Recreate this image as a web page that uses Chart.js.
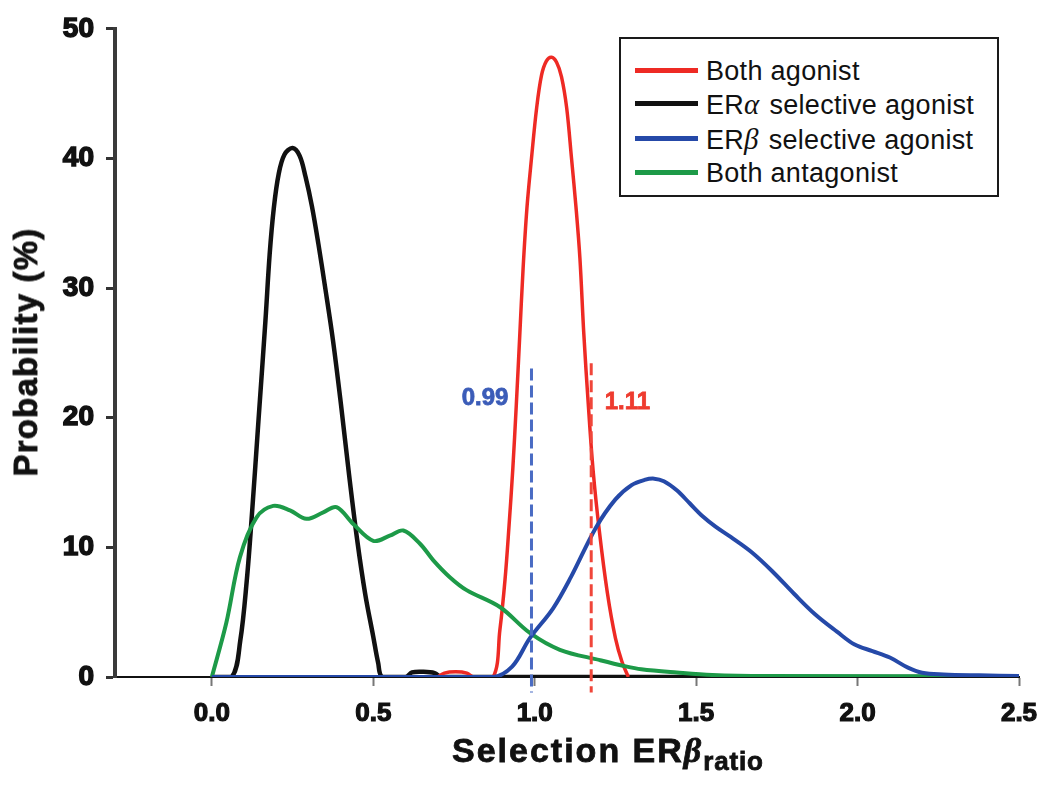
<!DOCTYPE html>
<html>
<head>
<meta charset="utf-8">
<script src="https://cdn.jsdelivr.net/npm/chart.js@4.4.1/dist/chart.umd.min.js"></script>
<style>
  html, body { margin: 0; padding: 0; background: #fff; }
  #wrap { position: relative; width: 1050px; height: 794px; font-family: "Liberation Sans", Arial, sans-serif; color: #111; }
  #chart { position: absolute; left: 0; top: 0; }
  .greek { font-family: "Liberation Serif", "DejaVu Serif", serif; font-style: italic; }
  #legend { position: absolute; left: 619px; top: 37px; width: 376px; height: 156px; border: 2px solid #1a1a1a; background: #fff; }
  .item { position: absolute; left: 14px; height: 34px; }
  .swatch { position: absolute; left: 0; top: 14px; width: 63px; height: 5px; }
  .label { position: absolute; left: 71px; top: 0; font-size: 27px; line-height: 34px; letter-spacing: 0.3px; white-space: nowrap; }
  .label .greek { font-size: 29px; padding-right: 2px; }
  #xtitle { position: absolute; left: 452px; top: 731px; font-size: 34px; font-weight: bold; letter-spacing: 2px; white-space: nowrap; -webkit-text-stroke: 0.8px #111; }
  #xtitle sub { font-size: 26px; vertical-align: -8px; letter-spacing: 0.8px; }
  #ytitle { position: absolute; left: 26px; top: 352px; transform: translate(-50%, -50%) rotate(-90deg); font-size: 33px; font-weight: bold; letter-spacing: 1.2px; white-space: nowrap; -webkit-text-stroke: 0.8px #111; }
</style>
</head>
<body>
<div id="wrap">
  <canvas id="chart" width="1050" height="794"></canvas>
  <div id="legend"></div>
  <div id="ytitle">Probability (%)</div>
  <div id="xtitle">Selection ER<span class="greek">β</span><sub>ratio</sub></div>
</div>
<script>
// Data: [selection ratio, probability %]
const bothAgonist = [
  [0.70, 0], [0.72, 0.3], [0.755, 0.4], [0.79, 0.3], [0.81, 0], [0.871, 0],
  [0.892, 3.6], [0.908, 7.5], [0.92, 11.5], [0.932, 16], [0.943, 21], [0.953, 26],
  [0.964, 31.5], [0.976, 36.2], [0.99, 40.0], [1.006, 43.9], [1.021, 46.4],
  [1.036, 47.5], [1.052, 47.8], [1.068, 47.4], [1.083, 46.3], [1.099, 43.9],
  [1.114, 40.0], [1.128, 36.2], [1.14, 32.3], [1.152, 26.5], [1.166, 21],
  [1.181, 15.9], [1.20, 11.3], [1.225, 6.5], [1.25, 3.0], [1.27, 1.2], [1.29, 0]
];
const erAlphaAgonist = [
  [0, 0], [0.062, 0], [0.088, 2.8], [0.108, 7.4], [0.124, 12.5], [0.145, 20],
  [0.166, 27.5], [0.179, 32.6], [0.192, 36.2], [0.207, 38.8], [0.225, 40.3],
  [0.25, 40.8], [0.272, 40.2], [0.29, 38.6], [0.31, 36.3], [0.33, 33.4],
  [0.35, 30.2], [0.375, 26.0], [0.40, 21.0], [0.425, 15.6], [0.45, 10.6],
  [0.475, 6.4], [0.50, 3.1], [0.515, 1.1], [0.528, 0], [0.6, 0], [0.62, 0.35],
  [0.655, 0.4], [0.69, 0.3], [0.71, 0], [2.5, 0]
];
const erBetaAgonist = [
  [0, 0], [0.87, 0], [0.93, 0.8], [0.985, 3.0], [1.057, 5.3], [1.112, 7.7],
  [1.189, 11.5], [1.25, 13.7], [1.30, 14.8], [1.34, 15.2], [1.37, 15.3],
  [1.40, 15.1], [1.44, 14.4], [1.48, 13.4], [1.52, 12.4], [1.56, 11.6],
  [1.607, 10.8], [1.673, 9.6], [1.738, 8.1], [1.804, 6.4], [1.87, 4.8],
  [1.936, 3.5], [1.991, 2.5], [2.046, 2.0], [2.10, 1.5], [2.156, 0.72],
  [2.20, 0.33], [2.266, 0.2], [2.376, 0.13], [2.5, 0.08]
];
const bothAntagonist = [
  [0, 0], [0.045, 4.2], [0.087, 9.25], [0.138, 12.3], [0.19, 13.2], [0.242, 12.85],
  [0.293, 12.2], [0.345, 12.7], [0.386, 13.1], [0.438, 11.8], [0.50, 10.5],
  [0.551, 10.9], [0.593, 11.3], [0.644, 10.3], [0.686, 9.0], [0.737, 7.7],
  [0.789, 6.7], [0.892, 5.4], [0.985, 3.4], [1.078, 2.1], [1.202, 1.3],
  [1.277, 0.85], [1.33, 0.6], [1.44, 0.35], [1.55, 0.16], [1.72, 0.08], [2.5, 0.05]
];

// Cut-off lines: [x, top y, bottom y]
const blueCutoff = [0.99, 23.8, -1.2];
const redCutoff = [1.175, 24.2, -1.2];
const cutoffLabels = ["0.99", "1.11"];

const xTickValues = [0.0, 0.5, 1.0, 1.5, 2.0, 2.5];
const yTickValues = [0, 10, 20, 30, 40, 50];

const seriesLabels = ["Both agonist", "ERα selective agonist", "ERβ selective agonist", "Both antagonist"];
const seriesColors = ["#ee2a24", "#111111", "#2549a8", "#1d9a48"];
const seriesData = [bothAgonist, erAlphaAgonist, erBetaAgonist, bothAntagonist];
const seriesWidths = [3.5, 4.5, 4, 4];
const seriesOrder = [3, 5, 1, 2]; // higher drawn first

const FONT = "'Liberation Sans', Arial, sans-serif";

function toPoints(arr) {
  return arr.map(([x, y]) => ({ x, y }));
}

const datasets = seriesData.map((d, i) => ({
  label: seriesLabels[i],
  data: toPoints(d),
  borderColor: seriesColors[i],
  borderWidth: seriesWidths[i],
  pointRadius: 0,
  fill: false,
  tension: 0.35,
  order: seriesOrder[i],
}));

// dashed cut-off lines
[[blueCutoff, "#4a6cc4"], [redCutoff, "#f0463a"]].forEach(([c, col]) => {
  datasets.push({
    label: "cutoff",
    data: [{ x: c[0], y: c[1] }, { x: c[0], y: c[2] }],
    borderColor: col,
    borderWidth: 3,
    borderDash: [12, 5],
    pointRadius: 0,
    clip: false,
    order: 0,
  });
});

// text next to the cut-off lines
const cutoffText = {
  id: "cutoffText",
  afterDatasetsDraw(chart) {
    const { ctx, scales } = chart;
    const items = [
      { text: cutoffLabels[0], x: 0.846, y: 21.5, color: "#3b5cb8" },
      { text: cutoffLabels[1], x: 1.287, y: 21.2, color: "#ee3b2f" },
    ];
    ctx.save();
    ctx.font = "bold 24px " + FONT;
    ctx.textAlign = "center";
    ctx.textBaseline = "middle";
    ctx.lineWidth = 0.8;
    items.forEach((it) => {
      const px = scales.x.getPixelForValue(it.x);
      const py = scales.y.getPixelForValue(it.y);
      ctx.fillStyle = it.color;
      ctx.strokeStyle = it.color;
      ctx.fillText(it.text, px, py);
      ctx.strokeText(it.text, px, py);
    });
    ctx.restore();
  },
};

const ctx = document.getElementById("chart");
const chart = new Chart(ctx, {
  type: "line",
  data: { datasets },
  options: {
    responsive: false,
    animation: false,
    devicePixelRatio: 1,
    layout: { padding: { top: 27, right: 31, bottom: 0, left: 0 } },
    plugins: {
      legend: { display: false },
      tooltip: { enabled: false },
      title: { display: false },
    },
    scales: {
      x: {
        type: "linear",
        min: -0.3,
        max: 2.5,
        afterBuildTicks: (s) => { s.ticks = xTickValues.map((v) => ({ value: v })); },
        afterFit: (s) => { s.height = 117; },
        grid: { drawOnChartArea: false, drawTicks: true, tickLength: 9, tickColor: "#777", tickWidth: 2 },
        border: { display: true, color: "#111", width: 2 },
        ticks: {
          color: "#111",
          padding: 12,
          maxRotation: 0,
          textStrokeColor: "#111",
          textStrokeWidth: 1.2,
          font: { family: FONT, size: 26, weight: "bold" },
          callback: (v) => Number(v).toFixed(1),
        },
      },
      y: {
        type: "linear",
        min: 0,
        max: 50,
        afterBuildTicks: (s) => { s.ticks = yTickValues.map((v) => ({ value: v })); },
        afterFit: (s) => { s.width = 115; },
        grid: { drawOnChartArea: false, drawTicks: true, tickLength: 9, tickColor: "#333", tickWidth: 3 },
        border: { display: true, color: "#3a3a3a", width: 4 },
        ticks: {
          color: "#111",
          padding: 12,
          textStrokeColor: "#111",
          textStrokeWidth: 1.5,
          font: { family: FONT, size: 28, weight: "bold" },
        },
      },
    },
  },
  plugins: [cutoffText],
});

// legend box
const legend = document.getElementById("legend");
const legendTops = [15, 48, 83, 117];
seriesLabels.forEach((lab, i) => {
  const item = document.createElement("div");
  item.className = "item";
  item.style.top = legendTops[i] + "px";
  const sw = document.createElement("div");
  sw.className = "swatch";
  sw.style.background = seriesColors[i];
  const tx = document.createElement("div");
  tx.className = "label";
  tx.innerHTML = lab.replace(/([αβ])/g, '<span class="greek">$1</span>');
  item.appendChild(sw);
  item.appendChild(tx);
  legend.appendChild(item);
});
</script>
</body>
</html>
